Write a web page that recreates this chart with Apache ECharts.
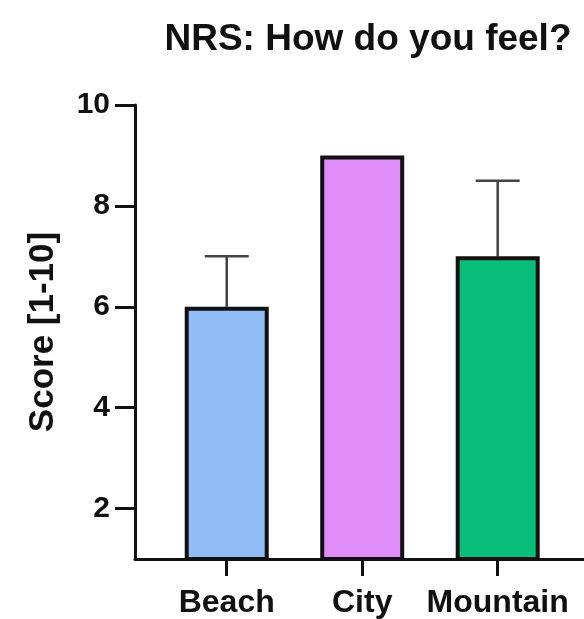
<!DOCTYPE html>
<html>
<head>
<meta charset="utf-8">
<script src="https://cdn.jsdelivr.net/npm/echarts@6/dist/echarts.min.js"></script>
<style>html,body{margin:0;padding:0;background:#fff;}#c{width:584px;height:619px;}</style>
</head>
<body>
<div id="c"></div>
<script>
var categories = ['Beach', 'City', 'Mountain'];
var means = [6, 9, 7];
var upperErrors = [1, 0, 1.5];
var barColors = ['#92bef8', '#de8cf8', '#08be7a'];
var yTicks = [2, 4, 6, 8, 10];
var catPositions = [0, 1, 2];

var font = 'Liberation Sans, Arial, Helvetica, sans-serif';
var chart = echarts.init(document.getElementById('c'));

var barData = catPositions.map(function (p, i) {
  return { value: [p, means[i]], itemStyle: { color: barColors[i] } };
});
var errData = catPositions.map(function (p, i) {
  return [p, means[i], means[i] + upperErrors[i]];
});

chart.setOption({
  animation: false,
  backgroundColor: '#fff',
  title: {
    text: 'NRS: How do you feel?',
    left: 363, textAlign: 'center', top: 16,
    textStyle: { fontFamily: font, fontWeight: 'bold', fontSize: 37, color: '#111' }
  },
  grid: { left: 135, right: 0, top: 105, bottom: 59 },
  xAxis: {
    type: 'value', min: -0.677, max: 2.637,
    splitLine: { show: false },
    axisLine: { show: true, onZero: false, lineStyle: { color: '#111', width: 3 } },
    axisTick: { show: true, length: 17, customValues: catPositions, lineStyle: { color: '#111', width: 3 } },
    axisLabel: {
      customValues: catPositions, margin: 28,
      formatter: function (v) { var i = Math.round(v); return categories[i] || ''; },
      fontFamily: font, fontWeight: 'bold', fontSize: 32, color: '#111'
    }
  },
  yAxis: {
    type: 'value', min: 1, max: 10,
    name: 'Score [1-10]', nameLocation: 'middle', nameGap: 74,
    nameTextStyle: { fontFamily: font, fontWeight: 'bold', fontSize: 35, color: '#111' },
    splitLine: { show: false },
    axisLine: { show: true, onZero: false, lineStyle: { color: '#111', width: 3 } },
    axisTick: { show: true, length: 20, customValues: yTicks, lineStyle: { color: '#111', width: 3 } },
    axisLabel: {
      customValues: yTicks, margin: 25,
      fontFamily: font, fontWeight: 'bold', fontSize: 30, color: '#111'
    }
  },
  series: [
    {
      type: 'bar', data: barData, barWidth: 84,
      itemStyle: { borderColor: '#111', borderWidth: 4 }, z: 2
    },
    {
      type: 'custom', data: errData, z: 1,
      renderItem: function (params, api) {
        var x = api.value(0), lo = api.value(1), hi = api.value(2);
        if (hi <= lo) return null;
        var p0 = api.coord([x, lo]);
        var p1 = api.coord([x, hi]);
        var hw = 22;
        var st = { stroke: '#444', lineWidth: 2.5 };
        return {
          type: 'group',
          children: [
            { type: 'line', shape: { x1: p0[0], y1: p0[1], x2: p1[0], y2: p1[1] }, style: st },
            { type: 'line', shape: { x1: p1[0] - hw, y1: p1[1], x2: p1[0] + hw, y2: p1[1] }, style: st }
          ]
        };
      }
    }
  ]
});
</script>
</body>
</html>
